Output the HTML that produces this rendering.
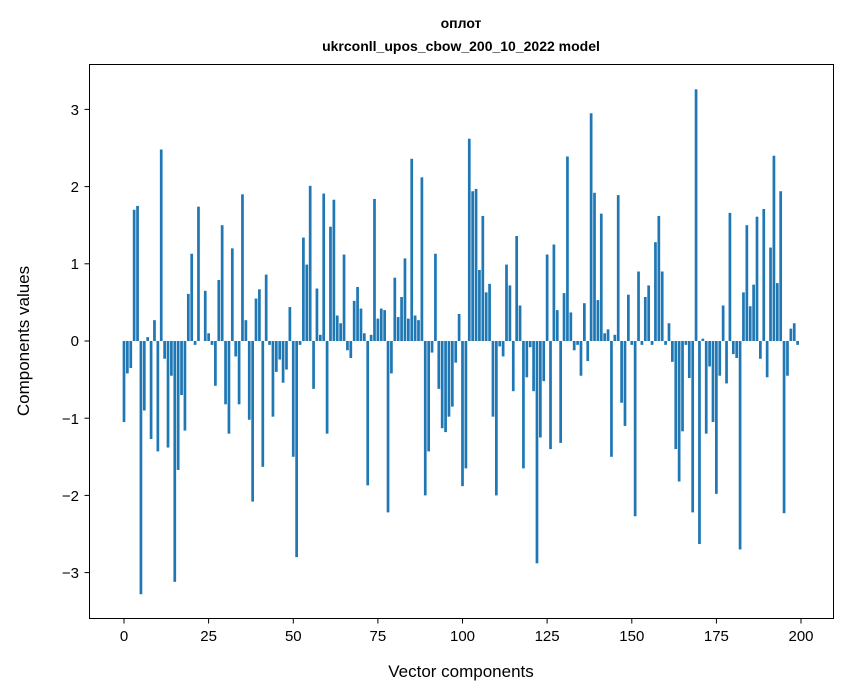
<!DOCTYPE html>
<html><head><meta charset="utf-8"><style>
html,body{margin:0;padding:0;background:#fff;}
svg{display:block;font-family:"Liberation Sans","DejaVu Sans",sans-serif;}
</style></head><body>
<svg id="s" width="847" height="696" viewBox="0 0 847 696">
<rect width="847" height="696" fill="#fff"/>
<g id="bars" fill="#1f77b4"></g>
<rect x="89.5" y="64.5" width="744" height="554" fill="none" stroke="#000" stroke-width="1"/>
<g stroke="#000" stroke-width="1">
<line x1="124" y1="618.5" x2="124" y2="623.5"/>
<line x1="208.6" y1="618.5" x2="208.6" y2="623.5"/>
<line x1="293.3" y1="618.5" x2="293.3" y2="623.5"/>
<line x1="377.9" y1="618.5" x2="377.9" y2="623.5"/>
<line x1="462.5" y1="618.5" x2="462.5" y2="623.5"/>
<line x1="547.1" y1="618.5" x2="547.1" y2="623.5"/>
<line x1="631.8" y1="618.5" x2="631.8" y2="623.5"/>
<line x1="716.4" y1="618.5" x2="716.4" y2="623.5"/>
<line x1="801" y1="618.5" x2="801" y2="623.5"/>
<line x1="84.5" y1="109.4" x2="89.5" y2="109.4"/>
<line x1="84.5" y1="186.6" x2="89.5" y2="186.6"/>
<line x1="84.5" y1="263.8" x2="89.5" y2="263.8"/>
<line x1="84.5" y1="341" x2="89.5" y2="341"/>
<line x1="84.5" y1="418.2" x2="89.5" y2="418.2"/>
<line x1="84.5" y1="495.4" x2="89.5" y2="495.4"/>
<line x1="84.5" y1="572.6" x2="89.5" y2="572.6"/>
</g>
<g font-size="15" text-anchor="middle" fill="#000">
<text x="124" y="641">0</text><text x="208.6" y="641">25</text><text x="293.3" y="641">50</text>
<text x="377.9" y="641">75</text><text x="462.5" y="641">100</text><text x="547.1" y="641">125</text>
<text x="631.8" y="641">150</text><text x="716.4" y="641">175</text><text x="801" y="641">200</text>
</g>
<g font-size="15" text-anchor="end" fill="#000">
<text x="79" y="115">3</text><text x="79" y="192">2</text><text x="79" y="269">1</text>
<text x="79" y="346">0</text><text x="79" y="424">−1</text><text x="79" y="501">−2</text>
<text x="79" y="578">−3</text>
</g>
<text x="461" y="677" font-size="17" text-anchor="middle">Vector components</text>
<text transform="translate(29,341) rotate(-90)" font-size="17" text-anchor="middle">Components values</text>
<text x="461" y="28" font-size="14" font-weight="bold" text-anchor="middle">оплот</text>
<text x="461" y="51" font-size="14" font-weight="bold" text-anchor="middle">ukrconll_upos_cbow_200_10_2022 model</text>
</svg>
<script>
var v=[-1.05,-0.42,-0.35,1.70,1.75,-3.28,-0.9,0.05,-1.27,0.27,-1.43,2.48,-0.23,-1.38,-0.45,-3.12,-1.67,-0.7,-1.16,0.61,
1.13,-0.05,1.74,0,0.65,0.1,-0.05,-0.58,0.79,1.5,-0.82,-1.2,1.2,-0.2,-0.82,1.9,0.27,-1.02,-2.08,0.55,
0.67,-1.63,0.86,-0.05,-0.98,-0.4,-0.24,-0.54,-0.37,0.44,-1.5,-2.8,-0.05,1.34,0.99,2.01,-0.62,0.68,0.08,1.91,
-1.2,1.48,1.83,0.33,0.23,1.12,-0.12,-0.22,0.52,0.7,0.42,0.1,-1.87,0.08,1.84,0.29,0.42,0.4,-2.22,-0.42,
0.82,0.31,0.57,1.07,0.29,2.36,0.33,0.27,2.12,-2.0,-1.43,-0.15,1.13,-0.62,-1.13,-1.18,-0.98,-0.85,-0.28,0.35,
-1.88,-1.65,2.62,1.94,1.97,0.92,1.62,0.63,0.74,-0.98,-2.0,-0.07,-0.2,0.99,0.72,-0.65,1.36,0.46,-1.65,-0.47,
-0.08,-0.65,-2.88,-1.25,-0.52,1.12,-1.4,1.25,0.4,-1.32,0.62,2.39,0.37,-0.12,-0.05,-0.45,0.49,-0.26,2.95,1.92,
0.53,1.65,0.1,0.15,-1.5,0.08,1.89,-0.8,-1.1,0.6,-0.05,-2.27,0.9,-0.05,0.57,0.72,-0.05,1.28,1.62,0.9,
-0.05,0.23,-0.27,-1.4,-1.82,-1.17,-0.05,-0.48,-2.22,3.26,-2.63,0.03,-1.2,-0.33,-1.05,-1.98,-0.45,0.46,-0.55,1.66,
-0.17,-0.22,-2.7,0.63,1.5,0.45,0.73,1.61,-0.23,1.71,-0.47,1.21,2.4,0.75,1.94,-2.23,-0.45,0.16,0.23,-0.05];
var g=document.getElementById('bars'),ns='http://www.w3.org/2000/svg',s='';
for(var i=0;i<v.length;i++){var x=124+3.385*i-1.354,y0=341,y=341-77.2*v[i];
s+='<rect x="'+x.toFixed(2)+'" y="'+Math.min(y,y0).toFixed(2)+'" width="2.71" height="'+Math.abs(y-y0).toFixed(2)+'"/>';}
g.innerHTML=s;
</script>
</body></html>
